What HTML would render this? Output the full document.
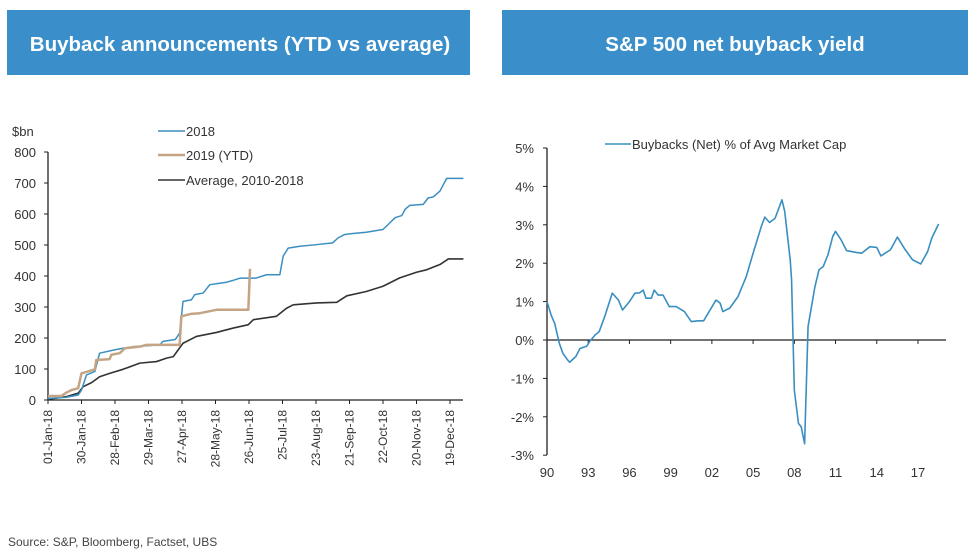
<!DOCTYPE html>
<html><head><meta charset="utf-8"><style>
body{margin:0;background:#fff;width:970px;height:554px;overflow:hidden;font-family:"Liberation Sans",sans-serif}
svg text{font-family:"Liberation Sans",sans-serif}
</style></head><body>
<svg id="s" width="970" height="554" xmlns="http://www.w3.org/2000/svg">
<rect x="7" y="10" width="463" height="65" fill="#3a8fcb"/>
<text x="240" y="51" fill="#fff" font-size="20.5" font-weight="bold" text-anchor="middle">Buyback announcements (YTD vs average)</text>
<rect x="502" y="10" width="466" height="65" fill="#3a8fcb"/>
<text x="735" y="51" fill="#fff" font-size="20.5" font-weight="bold" text-anchor="middle">S&amp;P 500 net buyback yield</text>
<text x="12" y="136" font-size="13" fill="#333">$bn</text>
<text x="8" y="546" font-size="12" fill="#444">Source: S&amp;P, Bloomberg, Factset, UBS</text>
<g id="L"></g><g id="R"></g>
</svg>
<script>
// Left chart data (x in tick-index units)
const leftTicks=["01-Jan-18","30-Jan-18","28-Feb-18","29-Mar-18","27-Apr-18","28-May-18","26-Jun-18","25-Jul-18","23-Aug-18","21-Sep-18","22-Oct-18","20-Nov-18","19-Dec-18"];
const leftYTicks=[0,100,200,300,400,500,600,700,800];
const s2018T=[0,0.55,0.9,1,1.15,1.4,1.54,2,2.24,2.54,3.34,3.43,3.8,3.93,4.03,4.28,4.38,4.63,4.83,5.33,5.53,5.73,6.2,6.52,6.92,7.02,7.17,7.52,8,8.5,8.66,8.86,9.1,9.5,10,10.2,10.36,10.56,10.66,10.8,11.2,11.35,11.5,11.7,11.9,12.4];
const s2018V=[5,9,16,32,81,92,151,162,167,172,178,189,195,216,318,323,340,345,372,380,386,393,393,404,404,464,490,496,501,507,523,534,537,541,550,571,588,595,615,628,631,652,655,674,715,715];
const s2019T=[0,0.4,0.55,0.7,0.9,1,1.2,1.4,1.44,1.84,1.89,2.14,2.3,2.74,2.94,3.93,3.98,4.28,4.53,5.03,5.98,6.03];
const s2019V=[13,13,24,32,38,86,92,99,129,132,146,151,167,172,178,178,270,278,280,291,291,423];
const avgT=[0,0.55,0.9,1.05,1.3,1.54,1.84,2.24,2.74,3.24,3.54,3.74,4.03,4.43,5.03,5.53,5.98,6.13,6.82,7.12,7.32,8.02,8.62,8.92,9.5,10,10.5,11,11.3,11.7,11.95,12.4];
const avgV=[2,11,22,43,56,75,86,99,119,124,135,140,183,205,218,232,243,259,270,296,307,313,315,336,350,367,394,412,420,437,455,455];
// Right chart data
const rYears=[1990,1990.3,1990.56,1990.9,1991.16,1991.5,1991.65,1992.1,1992.4,1992.9,1993.1,1993.5,1993.8,1994.2,1994.75,1995.2,1995.5,1996,1996.4,1996.75,1997,1997.2,1997.6,1997.8,1998.1,1998.45,1998.9,1999.4,2000,2000.5,2001,2001.4,2001.8,2002.3,2002.6,2002.8,2003.3,2003.9,2004.5,2005,2005.6,2005.85,2006.2,2006.6,2007.1,2007.3,2007.7,2007.8,2008,2008.3,2008.5,2008.75,2009,2009.5,2009.8,2010.1,2010.45,2010.8,2011,2011.4,2011.8,2012.5,2012.9,2013.5,2014,2014.3,2015,2015.5,2016,2016.6,2017.2,2017.7,2018,2018.5];
const rVals=[1,0.65,0.43,-0.09,-0.35,-0.52,-0.58,-0.43,-0.22,-0.16,-0.04,0.13,0.22,0.61,1.22,1.04,0.78,1,1.22,1.23,1.3,1.09,1.09,1.3,1.17,1.17,0.87,0.87,0.74,0.48,0.5,0.5,0.74,1.04,0.96,0.74,0.83,1.13,1.65,2.26,2.96,3.2,3.06,3.17,3.65,3.35,2.09,1.57,-1.3,-2.17,-2.26,-2.7,0.35,1.39,1.83,1.91,2.22,2.7,2.83,2.61,2.33,2.28,2.26,2.43,2.41,2.19,2.35,2.68,2.39,2.09,1.98,2.3,2.65,3.02];
const rYTicks=[-3,-2,-1,0,1,2,3,4,5];
const rXLabels=["90","93","96","99","02","05","08","11","14","17"];

const NS="http://www.w3.org/2000/svg";
function mk(p,t,a){const e=document.createElementNS(NS,t);for(const k in a)e.setAttribute(k,a[k]);p.appendChild(e);return e;}
const L=document.getElementById('L'),R=document.getElementById('R');
const lx=t=>48+t*33.5, ly=v=>400-v*0.31;
let e=mk(L,'line',{x1:48,y1:152,x2:48,y2:400,stroke:'#222','stroke-width':1.3});


e=mk(L,'line',{x1:48,y1:400,x2:463,y2:400,stroke:'#222','stroke-width':1.3});


leftYTicks.forEach(v=>{
  mk(L,'line',{x1:44,x2:48,y1:ly(v),y2:ly(v),stroke:'#222'});
  const t=mk(L,'text',{x:36,y:ly(v)+5,'font-size':13,'text-anchor':'end',fill:'#333'});t.textContent=v;
  
  
});
leftTicks.forEach((s,i)=>{
  const x=lx(i);mk(L,'line',{x1:x,x2:x,y1:400,y2:404,stroke:'#222'});
  const t=mk(L,'text',{x:0,y:0,'font-size':12,'text-anchor':'end',fill:'#333',transform:`translate(${x+4},${410}) rotate(-90)`});t.textContent=s;
  
  
});
function poly(p,xs,ys,fx,fy,col,w,name){const el=mk(p,'polyline',{points:xs.map((x,i)=>fx(x)+','+fy(ys[i])).join(' '),fill:'none',stroke:col,'stroke-width':w,'stroke-linejoin':'round'});

}
poly(L,avgT,avgV,lx,ly,'#333',1.6,'line-average-2010-2018');
poly(L,s2018T,s2018V,lx,ly,'#3a8fc0',1.5,'line-2018');
poly(L,s2019T,s2019V,lx,ly,'#c4a484',2.5,'line-2019-ytd');
[['2018','#3a8fc0',131,1.5],['2019 (YTD)','#c4a484',155,2.5],['Average, 2010-2018','#333',180,1.6]].forEach(([n,c,y,w])=>{
  mk(L,'line',{x1:158,x2:185,y1:y,y2:y,stroke:c,'stroke-width':w});
  const t=mk(L,'text',{x:186,y:y+5,'font-size':13,fill:'#333'});t.textContent=n;
  
  
});
const rx=y=>547+(y-1990)*13.74, ry=v=>340-v*38.4;
e=mk(R,'line',{x1:547,y1:148,x2:547,y2:455,stroke:'#222','stroke-width':1.3});


e=mk(R,'line',{x1:547,y1:340,x2:946,y2:340,stroke:'#222','stroke-width':1.3});


rYTicks.forEach(v=>{
  mk(R,'line',{x1:543,x2:547,y1:ry(v),y2:ry(v),stroke:'#222'});
  const t=mk(R,'text',{x:534,y:ry(v)+5,'font-size':13,'text-anchor':'end',fill:'#333'});t.textContent=v+'%';
  
  
});
rXLabels.forEach((s,i)=>{
  const x=rx(1990+i*3);mk(R,'line',{x1:x,x2:x,y1:340,y2:344,stroke:'#222'});
  const t=mk(R,'text',{x:x,y:477,'font-size':13,'text-anchor':'middle',fill:'#333'});t.textContent=s;
  
  
});
poly(R,rYears,rVals,rx,ry,'#3a8fc0',1.6,'line-net-buyback-yield');
mk(R,'line',{x1:605,x2:631,y1:144,y2:144,stroke:'#3a8fc0','stroke-width':1.6});
e=mk(R,'text',{x:632,y:149,'font-size':13,fill:'#333'});e.textContent='Buybacks (Net) % of Avg Market Cap';


</script>
</body></html>
